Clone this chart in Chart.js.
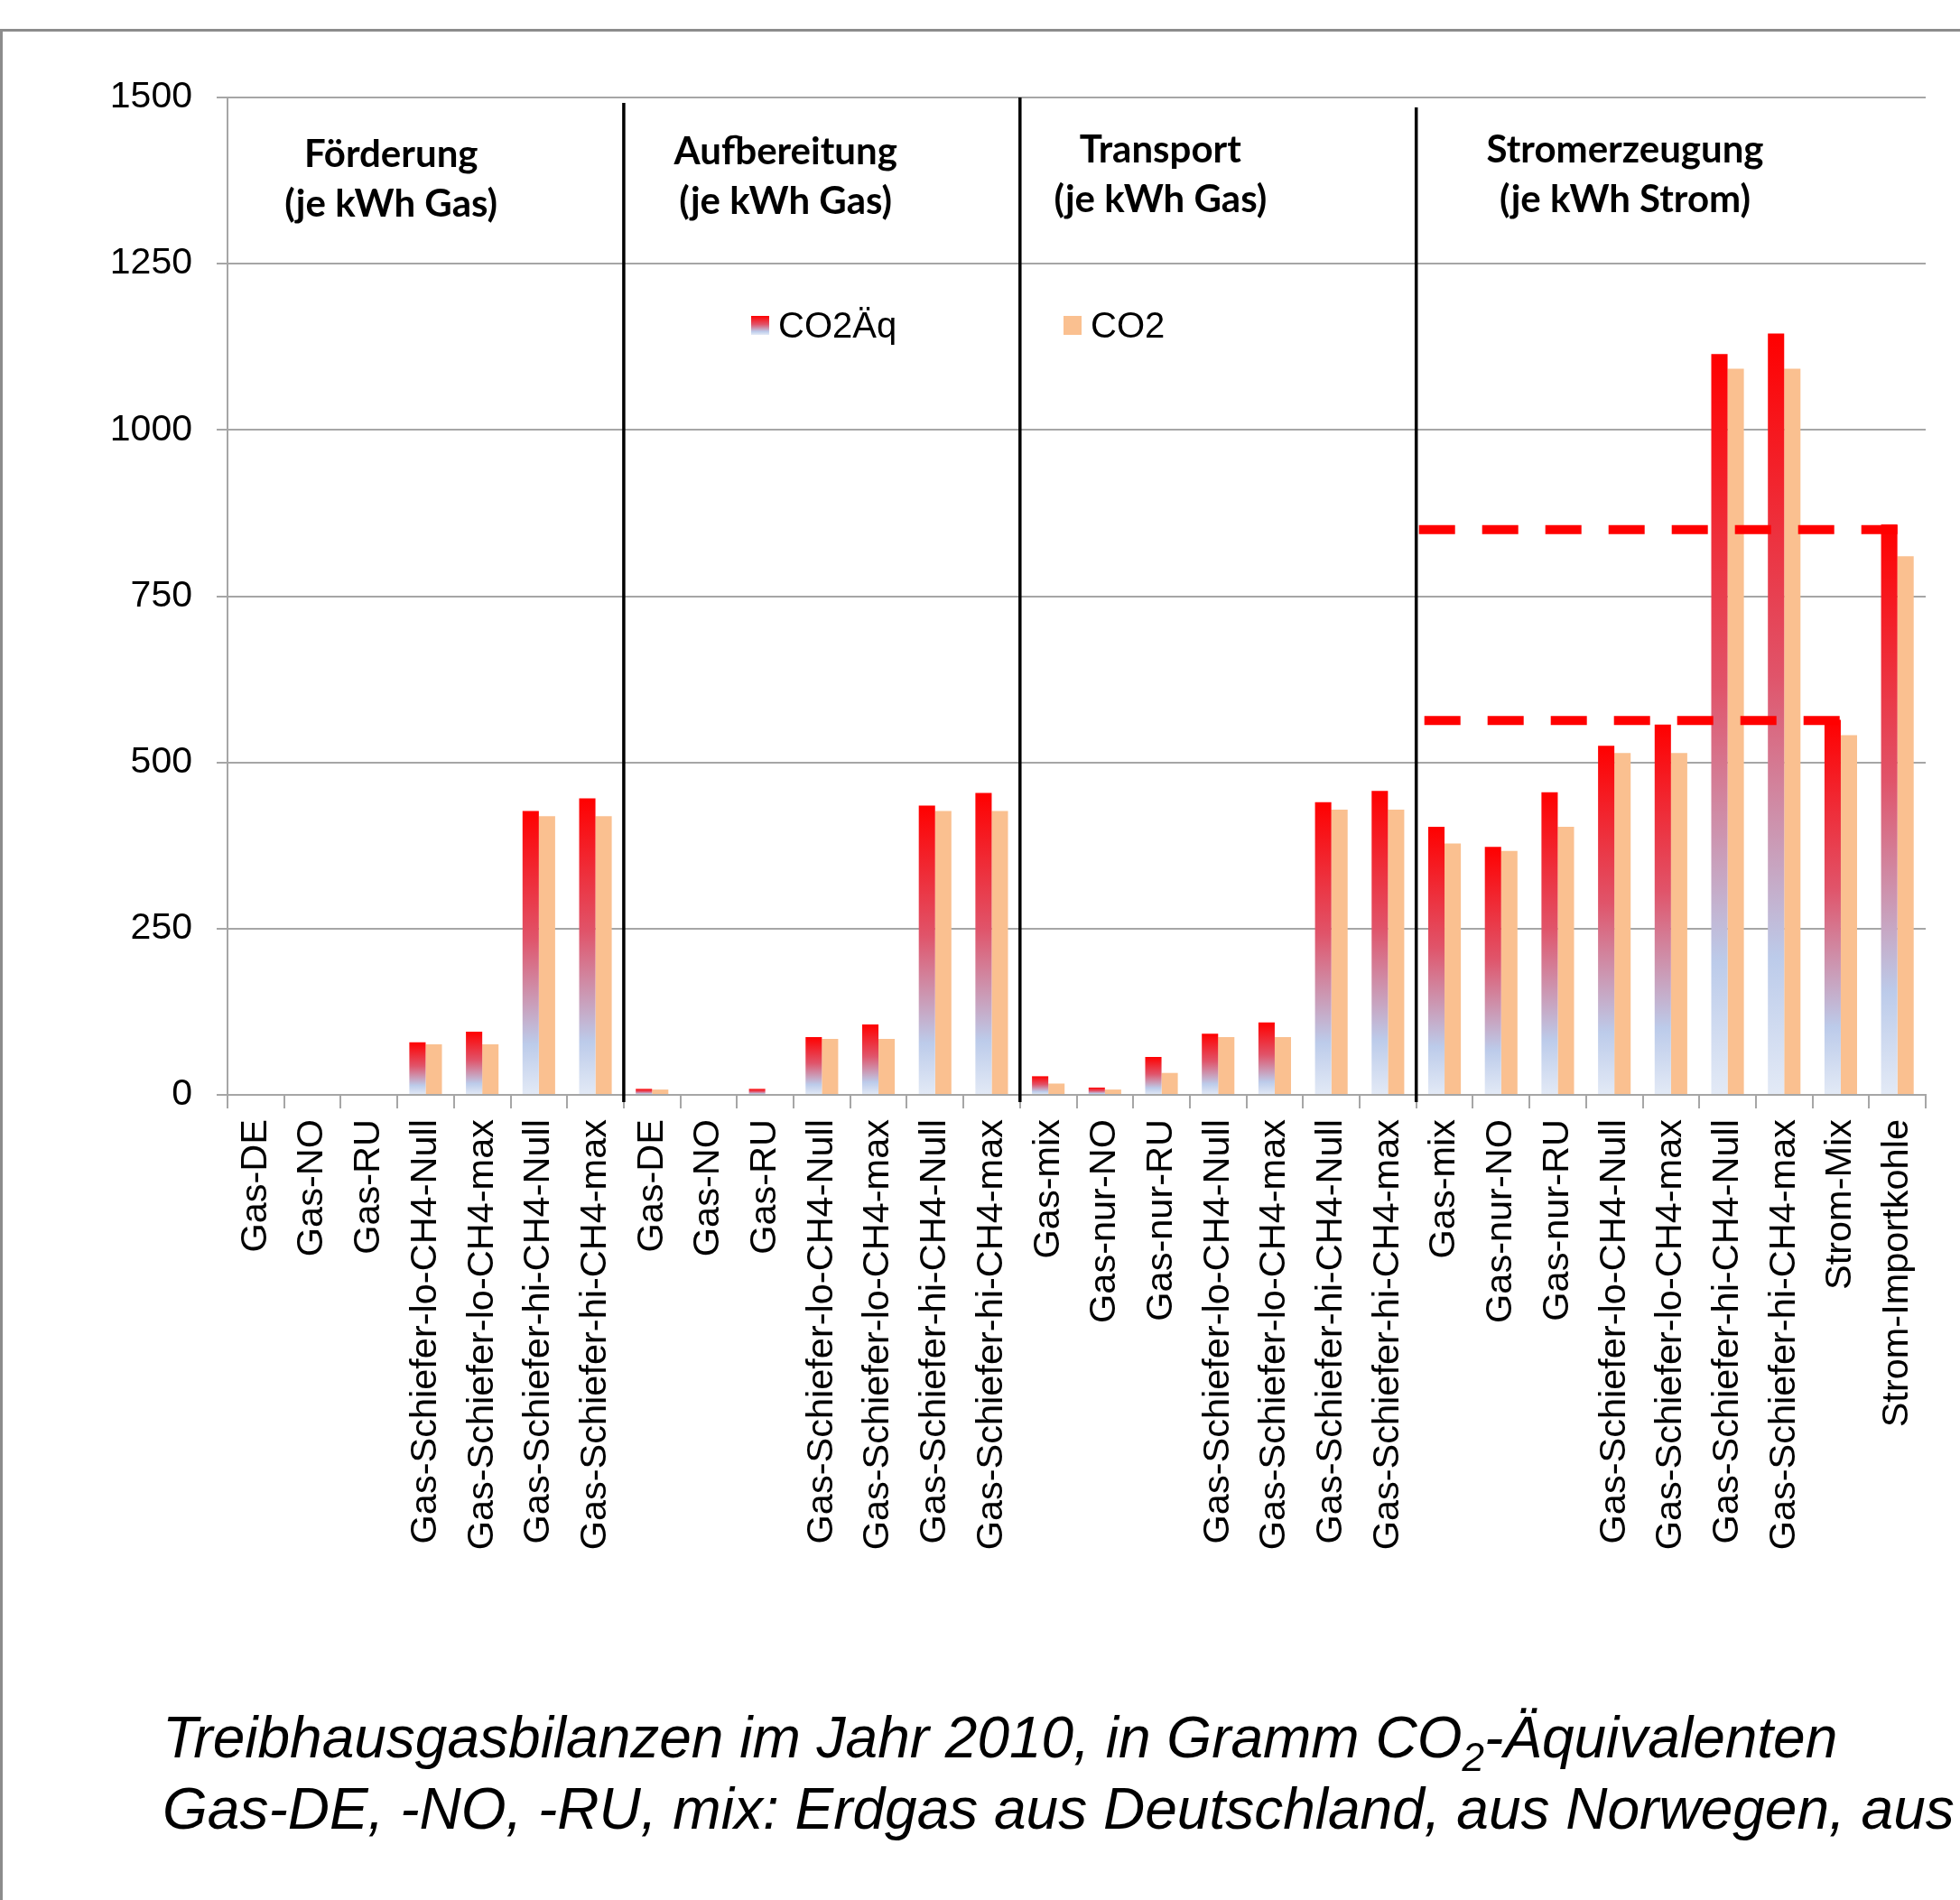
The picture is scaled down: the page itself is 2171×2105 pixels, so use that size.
<!DOCTYPE html>
<html lang="de">
<head>
<meta charset="utf-8">
<title>Treibhausgasbilanzen 2010</title>
<script src="https://cdn.jsdelivr.net/npm/chart.js@4.4.1/dist/chart.umd.min.js"></script>
<style>
  html, body { margin: 0; padding: 0; background: #fff; }
  #buehne { position: relative; width: 2171px; height: 2105px; overflow: hidden; }
  #rahmen { position: absolute; left: 0; top: 32px; right: -10px; bottom: -10px;
            border-top: 3px solid #8c8c8c; border-left: 3px solid #8c8c8c; }
  #grafik { position: absolute; left: 0; top: 0; }
  #unterschrift { position: absolute; left: 180px; top: 1886px; width: 2100px;
                  font: italic 64px "Liberation Sans", Arial, sans-serif; line-height: 79px;
                  color: #000; white-space: nowrap; }
  #unterschrift sub { font-size: 44px; line-height: 0; vertical-align: -15px; }
</style>
</head>
<body>
<div id="buehne">
  <div id="rahmen"></div>
  <canvas id="grafik" width="2171" height="2105"></canvas>
  <div id="unterschrift">
    Treibhausgasbilanzen im Jahr 2010, in Gramm CO<sub>2</sub>-Äquivalenten<br>
    Gas-DE, -NO, -RU, mix: Erdgas aus Deutschland, aus Norwegen, aus
  </div>
</div>
<script>
// Kategorien (x-Achse), 4 Abschnitte
const schiefer = ['Gas-Schiefer-lo-CH4-Null', 'Gas-Schiefer-lo-CH4-max', 'Gas-Schiefer-hi-CH4-Null', 'Gas-Schiefer-hi-CH4-max'];
const kategorien = [
  'Gas-DE', 'Gas-NO', 'Gas-RU', ...schiefer,
  'Gas-DE', 'Gas-NO', 'Gas-RU', ...schiefer,
  'Gas-mix', 'Gas-nur-NO', 'Gas-nur-RU', ...schiefer,
  'Gas-mix', 'Gas-nur-NO', 'Gas-nur-RU', ...schiefer, 'Strom-Mix', 'Strom-Importkohle'
];

// Werte in g CO2-Äquivalent
const co2Aeq = [0, 0, 0, 79, 95, 427, 446,
  9, 0, 9, 87, 106, 435, 454,
  28, 11, 57, 92, 109, 440, 457,
  403, 373, 455, 525, 557, 1114, 1145, 564, 858];
const co2 = [0, 0, 0, 76, 76, 419, 419,
  8, 0, 0, 84, 84, 427, 427,
  17, 8, 33, 87, 87, 429, 429,
  378, 367, 403, 514, 514, 1092, 1092, 541, 810];

const yTicks = [0, 250, 500, 750, 1000, 1250, 1500];

// Abschnitte
const abschnitte = ['Förderung', 'Aufbereitung', 'Transport', 'Stromerzeugung'];
const bezug = ['(je kWh Gas)', '(je kWh Gas)', '(je kWh Gas)', '(je kWh Strom)'];
const abschnittGrenzen = [7, 14, 21];

// gestrichelte Vergleichslinien (Stromerzeugung)
const vergleichsWerte = [850, 563];
const vergleichsBis = ['Strom-Importkohle', 'Strom-Mix'];

const ROT = '#FF0000';
const ORANGE = '#FAC090';

function verlauf(ctx, oben, unten) {
  const g = ctx.createLinearGradient(0, oben, 0, unten);
  g.addColorStop(0, '#FF0000');
  g.addColorStop(0.45, '#E0546A');
  g.addColorStop(0.82, '#BCCBEA');
  g.addColorStop(1, '#E3EAF6');
  return g;
}

function balkenVerlauf(context) {
  const chart = context.chart;
  const y = chart.scales.y;
  if (!y || context.raw == null) return ROT;
  const oben = y.getPixelForValue(context.raw);
  const unten = y.getPixelForValue(0);
  if (!(unten > oben)) return ROT;
  return verlauf(chart.ctx, oben, unten);
}

// Trennlinien, Abschnittstitel, Legende, Vergleichslinien
const extras = {
  id: 'extras',
  afterDatasetsDraw(chart) {
    const ctx = chart.ctx;
    const x = chart.scales.x;
    const area = chart.chartArea;
    ctx.save();

    // Vergleichslinien
    const meta = chart.getDatasetMeta(0);
    const start = [3, 9];
    vergleichsWerte.forEach((wert, i) => {
      const idx = kategorien.lastIndexOf(vergleichsBis[i]);
      const bar = meta.data[idx];
      const yPix = chart.scales.y.getPixelForValue(wert);
      ctx.beginPath();
      ctx.setLineDash([40, 30]);
      ctx.lineWidth = 10;
      ctx.strokeStyle = ROT;
      ctx.lineCap = 'butt';
      ctx.moveTo(x.getPixelForValue(20.5) + start[i], yPix);
      ctx.lineTo(bar.x + bar.width / 2, yPix);
      ctx.stroke();
    });
    ctx.setLineDash([]);

    // schwarze Trennlinien
    const oberkante = [6, 0, 11];
    abschnittGrenzen.forEach((g, i) => {
      const px = x.getPixelForValue(g - 0.5);
      ctx.beginPath();
      ctx.lineWidth = 3.5;
      ctx.strokeStyle = '#000';
      ctx.moveTo(px, area.top + oberkante[i]);
      ctx.lineTo(px, area.bottom + 8);
      ctx.stroke();
    });

    // Abschnittstitel
    const titelPos = [2.39, 9.36, 15.98, 24.19];
    const titelY = [185, 182, 180, 180];
    ctx.fillStyle = '#000';
    ctx.textAlign = 'center';
    ctx.textBaseline = 'alphabetic';
    ctx.font = 'bold 42px Lato, "Open Sans", sans-serif';
    abschnitte.forEach((t, i) => {
      const px = x.getPixelForValue(titelPos[i]);
      ctx.fillText(t, px, titelY[i]);
      ctx.fillText(bezug[i], px, titelY[i] + 55);
    });

    // Legende
    const legX = [832, 1178];
    ctx.textAlign = 'left';
    ctx.font = '40px "Liberation Sans", Arial, sans-serif';
    chart.data.datasets.forEach((ds, i) => {
      ctx.fillStyle = i === 0 ? verlauf(ctx, 350, 371) : ORANGE;
      ctx.fillRect(legX[i], 350, 20, 21);
      ctx.fillStyle = '#000';
      ctx.fillText(ds.label, legX[i] + 30, 374);
    });
    ctx.restore();
  }
};

new Chart(document.getElementById('grafik'), {
  type: 'bar',
  data: {
    labels: kategorien,
    datasets: [
      { label: 'CO2Äq', data: co2Aeq, backgroundColor: balkenVerlauf,
        categoryPercentage: 0.576, barPercentage: 1.0 },
      { label: 'CO2', data: co2, backgroundColor: ORANGE,
        categoryPercentage: 0.576, barPercentage: 1.0 }
    ]
  },
  options: {
    responsive: false,
    animation: false,
    events: [],
    layout: { padding: { top: 108, right: 38, bottom: 0, left: 0 } },
    plugins: {
      legend: { display: false },
      tooltip: { enabled: false }
    },
    scales: {
      x: {
        offset: true,
        grid: { display: true, drawOnChartArea: false, drawTicks: true, tickLength: 15,
                color: '#A6A6A6', lineWidth: 2, offset: true },
        border: { display: true, color: '#A6A6A6', width: 2 },
        ticks: { autoSkip: false, minRotation: 90, maxRotation: 90, padding: 12,
                 color: '#000', font: { family: '"Liberation Sans", Arial', size: 41.5 } },
        afterFit(s) { s.height = 2105 - 1213; }
      },
      y: {
        min: 0,
        max: 1500,
        afterBuildTicks(s) { s.ticks = yTicks.map(v => ({ value: v })); },
        grid: { color: '#A6A6A6', lineWidth: 2, tickLength: 12 },
        border: { display: true, color: '#A6A6A6', width: 2 },
        ticks: { padding: 27, color: '#000', callback: v => String(v),
                 font: { family: '"Liberation Sans", Arial', size: 41 } },
        afterFit(s) { s.width = 252; }
      }
    }
  },
  plugins: [extras]
});
</script>
</body>
</html>
